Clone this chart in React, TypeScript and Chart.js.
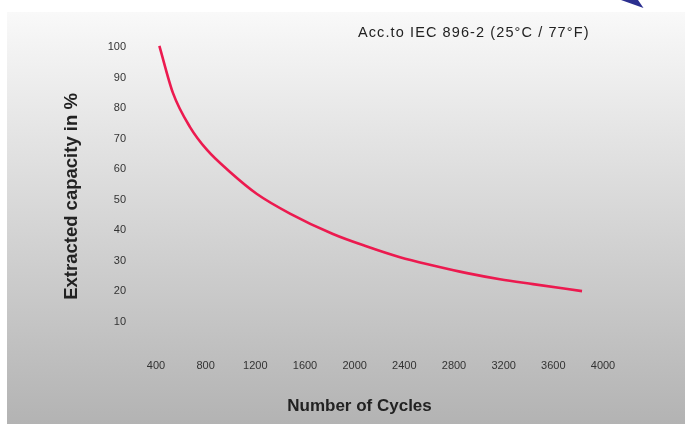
import React, { useEffect, useRef } from 'react';
import { Chart, registerables } from 'chart.js';

Chart.register(...registerables);

const cycles = [427, 537, 674, 811, 996, 1213, 1479, 1825, 2099, 2365, 2631, 2905, 3170, 3436, 3831];
const capacity = [100.4, 84.9, 73.8, 66.3, 59.1, 51.9, 45.5, 38.8, 34.7, 31.2, 28.5, 26.0, 24.0, 22.4, 20.1];

const subtitle = 'Acc.to IEC 896-2 (25°C / 77°F)';
const xTitle = 'Number of Cycles';
const yTitle = 'Extracted capacity in %';

const FONT = '"Liberation Sans", Arial, Helvetica, sans-serif';

const decorPlugin = {
  id: 'decor',
  beforeDraw(chart: any) {
    const ctx = chart.ctx as CanvasRenderingContext2D;
    ctx.save();
    ctx.fillStyle = '#ffffff';
    ctx.fillRect(0, 0, 685, 424);
    const g = ctx.createLinearGradient(0, 12, 0, 424);
    g.addColorStop(0, '#f9f9f9');
    g.addColorStop(1, '#b3b3b3');
    ctx.fillStyle = g;
    ctx.fillRect(7, 12, 678, 412);
    ctx.fillStyle = '#2b2f8f';
    ctx.beginPath();
    ctx.moveTo(621, 0);
    ctx.lineTo(638, 0);
    ctx.lineTo(643.5, 8);
    ctx.closePath();
    ctx.fill();
    ctx.restore();
  },
  afterDraw(chart: any) {
    const ctx = chart.ctx as CanvasRenderingContext2D;
    ctx.save();
    ctx.fillStyle = '#222222';
    ctx.textBaseline = 'alphabetic';
    ctx.font = `14.5px ${FONT}`;
    (ctx as any).letterSpacing = '1.1px';
    ctx.textAlign = 'left';
    ctx.fillText(subtitle, 358, 37);
    (ctx as any).letterSpacing = '0px';
    ctx.font = `bold 17px ${FONT}`;
    ctx.textAlign = 'center';
    ctx.fillText(xTitle, 359.5, 411);
    ctx.translate(77, 196.5);
    ctx.rotate(-Math.PI / 2);
    ctx.font = `bold 18.5px ${FONT}`;
    ctx.fillText(yTitle, 0, 0);
    ctx.restore();
  },
};

export default function App() {
  const ref = useRef<HTMLCanvasElement | null>(null);
  useEffect(() => {
    if (!ref.current) return;
    const chart = new Chart(ref.current, {
      type: 'line',
      data: {
        datasets: [
          {
            data: cycles.map((c, i) => ({ x: c, y: capacity[i] })),
            borderColor: '#ec1a4f',
            borderWidth: 2.6,
            pointRadius: 0,
            tension: 0.4,
            cubicInterpolationMode: 'monotone',
            clip: false as any,
            fill: false,
          },
        ],
      },
      options: {
        animation: false,
        responsive: false,
        devicePixelRatio: 1,
        layout: { padding: { left: 0, top: 47, right: 82, bottom: 0 } },
        plugins: { legend: { display: false }, tooltip: { enabled: false }, title: { display: false } },
        scales: {
          x: {
            type: 'linear',
            min: 400,
            max: 4000,
            grid: { display: false, drawTicks: false },
            border: { display: false },
            ticks: {
              stepSize: 400,
              font: { family: FONT, size: 11 },
              color: '#333333',
              padding: 37,
              maxRotation: 0,
              callback: (v: any) => String(v),
            },
            afterFit: (s: any) => {
              s.height = 102;
            },
          },
          y: {
            type: 'linear',
            min: 10,
            max: 100,
            grid: { display: false, drawTicks: false },
            border: { display: false },
            ticks: {
              stepSize: 10,
              font: { family: FONT, size: 11 },
              color: '#333333',
              padding: 30,
              callback: (v: any) => String(v),
            },
            afterFit: (s: any) => {
              s.width = 156;
            },
          },
        },
      } as any,
      plugins: [decorPlugin],
    });
    return () => chart.destroy();
  }, []);
  return (
    <div style={{ position: 'fixed', left: 0, top: 0, width: 685, height: 424 }}>
      <canvas ref={ref} width={685} height={424} style={{ display: 'block', width: 685, height: 424 }} />
    </div>
  );
}
